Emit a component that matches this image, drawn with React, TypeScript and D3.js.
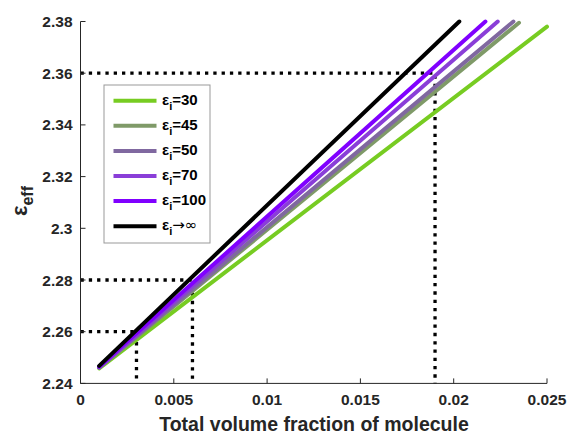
import React from "react";
import * as d3 from "d3";

const seriesNames = ["30", "45", "50", "70", "100", "∞"];
const seriesColors = ["#77cc22", "#7f9a68", "#8068a0", "#8a3ed8", "#8000ff", "#000000"];
// each series: [x0, x1], [y0, y1] (straight lines)
const seriesX = [
  [0.001, 0.025],
  [0.001, 0.0235],
  [0.001, 0.0232],
  [0.001, 0.02236],
  [0.001, 0.0217],
  [0.001, 0.0203],
];
const seriesY = [
  [2.2458, 2.378],
  [2.2461, 2.3795],
  [2.2462, 2.38],
  [2.2463, 2.38],
  [2.2465, 2.38],
  [2.2468, 2.38],
];
const xTicks = [0, 0.005, 0.01, 0.015, 0.02, 0.025];
const xTickLabels = ["0", "0.005", "0.01", "0.015", "0.02", "0.025"];
const yTicks = [2.24, 2.26, 2.28, 2.3, 2.32, 2.34, 2.36, 2.38];
const yTickLabels = ["2.24", "2.26", "2.28", "2.3", "2.32", "2.34", "2.36", "2.38"];
const guideX = [0.003, 0.006, 0.019];
const guideY = [2.26, 2.28, 2.36];

const W = 569;
const H = 437;
const FONT = "'Liberation Sans', Arial, sans-serif";

export default function App() {
  const x = d3.scaleLinear().domain([0, 0.025]).range([80.5, 547]);
  const y = d3.scaleLinear().domain([2.24, 2.38]).range([383.4, 21.5]);
  const line = d3.line<[number, number]>().x((d) => x(d[0])).y((d) => y(d[1]));

  const legX = 104;
  const legY = 85;
  const legW = 106;
  const legH = 158;
  const rowH = 25.1;

  return (
    <svg width={W} height={H} style={{ position: "absolute", left: 0, top: 0, background: "#fff" }}>
      <rect x={0} y={0} width={W} height={H} fill="#fff" />
      {guideX.map((gx, i) => (
        <path
          key={"g" + i}
          d={`M${x(0)},${y(guideY[i])}H${x(gx)}V${y(2.24)}`}
          fill="none"
          stroke="#000"
          strokeWidth={3.3}
          strokeDasharray="3.3,5"
        />
      ))}
      {seriesX.map((xs, i) => (
        <path
          key={"s" + i}
          d={line(xs.map((v, j) => [v, seriesY[i][j]]) as [number, number][]) || ""}
          fill="none"
          stroke={seriesColors[i]}
          strokeWidth={4}
          strokeLinecap="round"
        />
      ))}
      <g fontFamily={FONT} fontWeight="bold" fontSize={15.5} fill="#262626">
        <line x1={x(0)} x2={x(0.025)} y1={y(2.24)} y2={y(2.24)} stroke="#262626" strokeWidth={1} />
        <line x1={x(0)} x2={x(0)} y1={y(2.24)} y2={y(2.38)} stroke="#262626" strokeWidth={1} />
        {xTicks.map((t, i) => (
          <g key={"xt" + i}>
            <line x1={x(t)} x2={x(t)} y1={y(2.24)} y2={y(2.24) - 5} stroke="#262626" />
            <text x={x(t)} y={y(2.24) + 21.5} textAnchor="middle">
              {xTickLabels[i]}
            </text>
          </g>
        ))}
        {yTicks.map((t, i) => (
          <g key={"yt" + i}>
            <line x1={x(0)} x2={x(0) + 5} y1={y(t)} y2={y(t)} stroke="#262626" />
            <text x={x(0) - 8} y={y(t) + 5.5} textAnchor="end">
              {yTickLabels[i]}
            </text>
          </g>
        ))}
        <text x={314} y={431} textAnchor="middle" fontSize={19.5} fill="#262626">
          Total volume fraction of molecule
        </text>
        <text transform={`translate(27,201) rotate(-90)`} textAnchor="middle" fontSize={22} fill="#262626">
          ε<tspan dy={6} fontSize={16}>eff</tspan>
        </text>
      </g>
      <g fontFamily={FONT} fontWeight="bold" fontSize={15}>
        <rect x={legX} y={legY} width={legW} height={legH} fill="#fff" stroke="#999" strokeWidth={1} />
        {seriesNames.map((n, i) => {
          const cy = legY + 15.7 + i * rowH;
          return (
            <g key={"l" + i}>
              <line x1={113.5} x2={156.5} y1={cy} y2={cy} stroke={seriesColors[i]} strokeWidth={4} />
              <text x={162} y={cy + 4} fill="#000">
                ε<tspan dy={5} fontSize={11}>i</tspan>
                {n === "∞" ? (
                  <tspan dy={-5} fontFamily="'DejaVu Sans', sans-serif" fontWeight="normal" fontSize={15}>
                    →∞
                  </tspan>
                ) : (
                  <tspan dy={-5}>{"=" + n}</tspan>
                )}
              </text>
            </g>
          );
        })}
      </g>
    </svg>
  );
}
